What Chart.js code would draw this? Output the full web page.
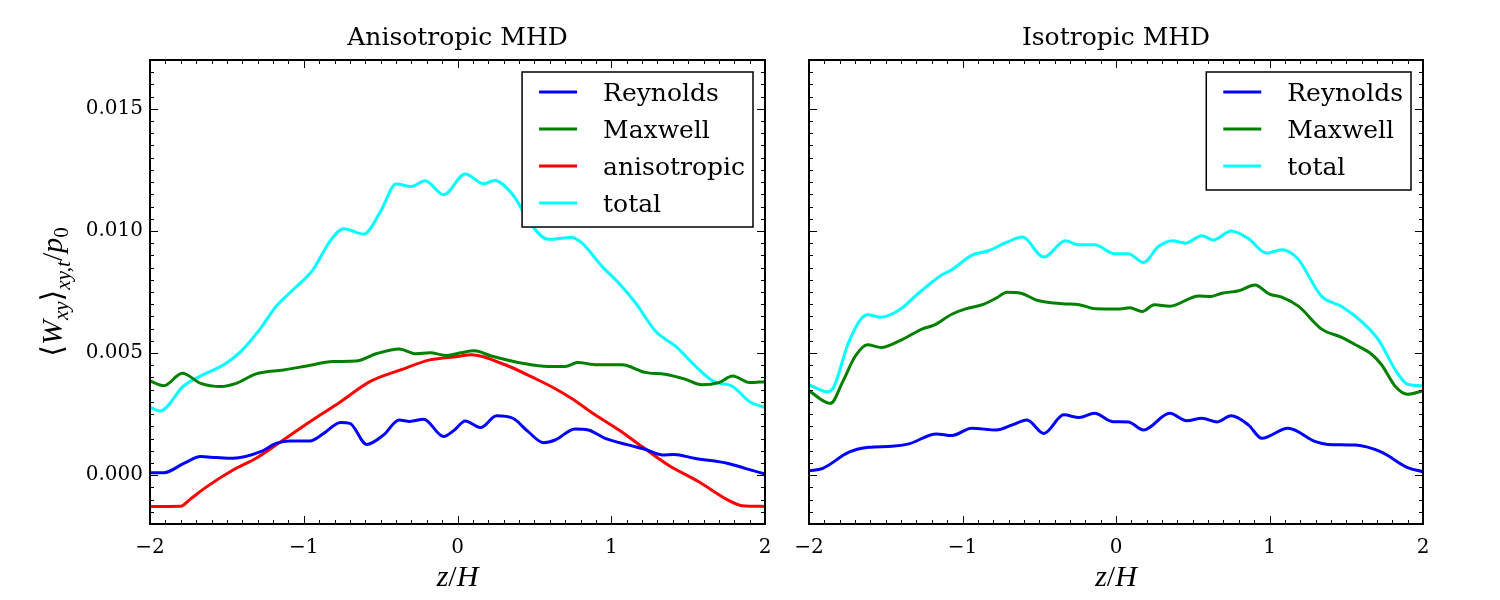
<!DOCTYPE html>
<html>
<head>
<meta charset="utf-8">
<script src="https://cdn.jsdelivr.net/npm/chart.js@4.4.1/dist/chart.umd.min.js"></script>
<style>
  body { margin: 0; background: #fff; width: 1500px; height: 600px; position: relative; overflow: hidden; }
  canvas { position: absolute; top: 0; }
  #left { left: 0; }
  #right { left: 790px; }
</style>
</head>
<body>
<canvas id="left" width="780" height="600"></canvas>
<canvas id="right" width="650" height="600"></canvas>
<script>
// ===== Data (stress values in units of 1e-3) =====
const xTicks = [-2, -1, 0, 1, 2];
const xTickLabels = ["\u22122", "\u22121", "0", "1", "2"];
const yTicks = [0, 5, 10, 15];
const yTickLabels = ["0.000", "0.005", "0.010", "0.015"];

// Anisotropic MHD
const zReyA = [-2, -1.91, -1.78, -1.67, -1.57, -1.46, -1.28, -1.18, -1.09, -0.96, -0.87, -0.76, -0.70, -0.59, -0.48, -0.38, -0.31, -0.22, -0.09, -0.02, 0.05, 0.15, 0.255, 0.36, 0.46, 0.56, 0.635, 0.764, 0.85, 0.96, 1.11, 1.22, 1.33, 1.41, 1.54, 1.76, 1.87, 2];
const reyA  = [0.1, 0.1, 0.48, 0.76, 0.72, 0.69, 0.96, 1.30, 1.40, 1.40, 1.71, 2.16, 2.12, 1.26, 1.65, 2.26, 2.20, 2.29, 1.58, 1.85, 2.22, 1.95, 2.43, 2.33, 1.78, 1.33, 1.44, 1.89, 1.85, 1.51, 1.24, 1.06, 0.83, 0.85, 0.69, 0.48, 0.28, 0.05];

const zMaxA = [-2, -1.91, -1.79, -1.67, -1.54, -1.44, -1.31, -1.13, -0.98, -0.81, -0.66, -0.53, -0.38, -0.27, -0.18, -0.07, 0.02, 0.11, 0.22, 0.44, 0.59, 0.70, 0.78, 0.91, 1.07, 1.22, 1.35, 1.48, 1.59, 1.70, 1.79, 1.90, 2];
const maxA  = [3.86, 3.66, 4.17, 3.76, 3.63, 3.76, 4.15, 4.31, 4.47, 4.65, 4.67, 4.97, 5.17, 4.97, 5.01, 4.90, 5.01, 5.09, 4.88, 4.56, 4.45, 4.45, 4.61, 4.52, 4.52, 4.21, 4.13, 3.93, 3.70, 3.79, 4.06, 3.79, 3.83];

const zAniA = [-2, -1.80, -1.74, -1.63, -1.46, -1.31, -1.15, -0.96, -0.76, -0.57, -0.37, -0.18, 0.0, 0.09, 0.31, 0.50, 0.63, 0.74, 0.895, 1.05, 1.20, 1.37, 1.57, 1.76, 1.85, 2];
const aniA  = [-1.28, -1.27, -0.99, -0.47, 0.21, 0.69, 1.37, 2.19, 3.01, 3.83, 4.31, 4.72, 4.86, 4.93, 4.52, 3.97, 3.56, 3.15, 2.47, 1.85, 1.17, 0.42, -0.27, -1.02, -1.25, -1.28];

const zTotA = [-2, -1.935, -1.78, -1.65, -1.52, -1.41, -1.28, -1.18, -1.07, -0.94, -0.83, -0.74, -0.61, -0.50, -0.40, -0.30, -0.21, -0.09, 0.05, 0.17, 0.24, 0.36, 0.48, 0.59, 0.74, 0.81, 0.94, 1.05, 1.16, 1.29, 1.42, 1.55, 1.66, 1.79, 1.90, 2];
const totA  = [2.77, 2.63, 3.66, 4.13, 4.52, 5.06, 6.02, 6.91, 7.59, 8.41, 9.57, 10.09, 9.87, 10.80, 11.92, 11.82, 12.06, 11.48, 12.33, 11.93, 12.07, 11.48, 10.25, 9.66, 9.73, 9.50, 8.55, 7.86, 7.04, 5.88, 5.27, 4.45, 3.86, 3.63, 3.01, 2.77];

// Isotropic MHD
const zReyI = [-2, -1.91, -1.74, -1.61, -1.46, -1.35, -1.17, -1.07, -0.94, -0.78, -0.675, -0.58, -0.47, -0.34, -0.24, -0.14, -0.02, 0.08, 0.18, 0.35, 0.46, 0.56, 0.66, 0.75, 0.862, 0.95, 1.12, 1.30, 1.38, 1.56, 1.73, 1.90, 2];
const reyI  = [0.17, 0.28, 0.94, 1.14, 1.18, 1.28, 1.69, 1.62, 1.92, 1.85, 2.06, 2.26, 1.71, 2.47, 2.36, 2.53, 2.19, 2.18, 1.85, 2.53, 2.23, 2.33, 2.18, 2.43, 2.06, 1.51, 1.92, 1.37, 1.26, 1.23, 0.94, 0.31, 0.14];

const zMaxI = [-2, -1.86, -1.78, -1.70, -1.62, -1.53, -1.41, -1.26, -1.19, -1.07, -0.98, -0.87, -0.78, -0.71, -0.62, -0.51, -0.35, -0.24, -0.13, 0.01, 0.09, 0.17, 0.25, 0.35, 0.54, 0.62, 0.69, 0.80, 0.905, 1.00, 1.08, 1.19, 1.34, 1.47, 1.56, 1.665, 1.73, 1.82, 1.90, 2];
const maxI  = [3.45, 2.94, 3.83, 4.86, 5.34, 5.23, 5.50, 5.99, 6.13, 6.59, 6.81, 6.98, 7.25, 7.49, 7.45, 7.15, 7.02, 6.98, 6.81, 6.80, 6.85, 6.70, 6.98, 6.92, 7.34, 7.32, 7.45, 7.55, 7.79, 7.41, 7.29, 6.91, 5.98, 5.64, 5.34, 4.95, 4.52, 3.63, 3.31, 3.45];

const zTotI = [-2, -1.88, -1.84, -1.74, -1.62, -1.53, -1.41, -1.28, -1.14, -1.07, -0.94, -0.83, -0.71, -0.61, -0.47, -0.33, -0.24, -0.14, -0.01, 0.08, 0.18, 0.276, 0.37, 0.45, 0.56, 0.634, 0.75, 0.86, 0.98, 1.08, 1.18, 1.34, 1.47, 1.60, 1.71, 1.82, 1.90, 2];
const totI  = [3.70, 3.42, 3.59, 5.47, 6.57, 6.47, 6.77, 7.49, 8.18, 8.41, 9.00, 9.19, 9.54, 9.75, 8.93, 9.60, 9.43, 9.43, 9.07, 9.07, 8.71, 9.36, 9.60, 9.50, 9.80, 9.63, 10.00, 9.70, 9.09, 9.23, 8.89, 7.32, 6.91, 6.29, 5.54, 4.31, 3.72, 3.66];

// ===== Helpers =====
function pts(zs, vs) {
    return zs.map((z, i) => ({ x: z, y: vs[i] }));
}

function line(label, color, zs, vs) {
    return {
        label: label,
        data: pts(zs, vs),
        borderColor: color,
        borderWidth: 3,
        pointRadius: 0,
        fill: false,
        cubicInterpolationMode: "monotone"
    };
}

// draws mixed-style text pieces along a baseline, centred on 0
function drawPieces(ctx, pieces) {
    let total = 0;
    pieces.forEach(p => {
        ctx.font = p[1] + " " + p[2] + "px " + p[4];
        p.w = ctx.measureText(p[0]).width;
        total += p.w;
    });
    let cx = -total / 2;
    pieces.forEach(p => {
        ctx.font = p[1] + " " + p[2] + "px " + p[4];
        ctx.fillText(p[0], cx, p[3]);
        cx += p.w;
    });
}

const mathFont = '"Liberation Serif", serif';

// ===== Frame, ticks, legend, titles =====
const framePlugin = {
    id: "frame",
    afterDatasetsDraw(chart, args, opts) {
        const ctx = chart.ctx;
        const a = chart.chartArea;
        const x = chart.scales.x;
        const y = chart.scales.y;
        ctx.save();

        // legend
        const sets = chart.data.datasets;
        ctx.font = '25px "DejaVu Serif"';
        const textW = Math.max(...sets.map(d => ctx.measureText(d.label).width));
        const w = 17 + 38 + 26 + textW + 8;
        const rowH = 37;
        const h = 20 + rowH * (sets.length - 1) + 24;
        const x0 = a.right - 12 - w;
        const y0 = a.top + 12;
        ctx.fillStyle = "#fff";
        ctx.fillRect(x0, y0, w, h);
        ctx.strokeStyle = "#000";
        ctx.lineWidth = 1.5;
        ctx.strokeRect(x0, y0, w, h);
        sets.forEach((d, i) => {
            const cy = y0 + 20 + i * rowH;
            ctx.strokeStyle = d.borderColor;
            ctx.lineWidth = 3;
            ctx.beginPath();
            ctx.moveTo(x0 + 17, cy);
            ctx.lineTo(x0 + 55, cy);
            ctx.stroke();
            ctx.fillStyle = "#000";
            ctx.textAlign = "left";
            ctx.textBaseline = "alphabetic";
            ctx.fillText(d.label, x0 + 81, cy + 9);
        });

        // inward ticks on all four sides
        ctx.strokeStyle = "#000";
        ctx.lineWidth = 1;
        ctx.beginPath();
        for (let i = -20; i <= 20; i++) {
            const px = Math.round(x.getPixelForValue(i / 10)) + 0.5;
            const len = i % 10 === 0 ? 8 : 4;
            ctx.moveTo(px, a.bottom); ctx.lineTo(px, a.bottom - len);
            ctx.moveTo(px, a.top); ctx.lineTo(px, a.top + len);
        }
        for (let i = -4; i <= 34; i++) {
            const py = Math.round(y.getPixelForValue(i / 2)) + 0.5;
            const len = i % 10 === 0 ? 8 : 4;
            ctx.moveTo(a.left, py); ctx.lineTo(a.left + len, py);
            ctx.moveTo(a.right, py); ctx.lineTo(a.right - len, py);
        }
        ctx.stroke();

        ctx.lineWidth = 2;
        ctx.strokeRect(a.left, a.top, a.right - a.left, a.bottom - a.top);
        ctx.restore();
    },
    afterDraw(chart, args, opts) {
        const ctx = chart.ctx;
        const a = chart.chartArea;
        const cx = (a.left + a.right) / 2;
        ctx.save();
        ctx.fillStyle = "#000";
        ctx.textBaseline = "alphabetic";

        // panel title
        ctx.textAlign = "center";
        ctx.font = '25px "DejaVu Serif"';
        ctx.fillText(opts.title, cx, 45);

        // x axis title
        ctx.textAlign = "left";
        ctx.save();
        ctx.translate(cx, 586);
        drawPieces(ctx, [
            ["z", "italic", 30, 0, mathFont],
            ["/", "normal", 30, 0, mathFont],
            ["H", "italic", 30, 0, mathFont]
        ]);
        ctx.restore();

        // y axis title
        if (opts.yLabel) {
            ctx.save();
            ctx.translate(62, (a.top + a.bottom) / 2);
            ctx.rotate(-Math.PI / 2);
            drawPieces(ctx, [
                ["\u27E8", "normal", 30, 0, '"DejaVu Serif"'],
                ["W", "italic", 30, 0, mathFont],
                ["xy", "italic", 21, 6, mathFont],
                ["\u27E9", "normal", 30, 0, '"DejaVu Serif"'],
                ["xy,t", "italic", 21, 8, mathFont],
                ["/", "normal", 30, 0, mathFont],
                ["p", "italic", 30, 0, mathFont],
                ["0", "normal", 21, 6, mathFont]
            ]);
            ctx.restore();
        }
        ctx.restore();
    }
};

// ===== Charts =====
function makeChart(id, title, datasets, showY, padRight) {
    const tickFont = { family: "DejaVu Serif", size: 20 };
    return new Chart(document.getElementById(id), {
        type: "line",
        data: { datasets: datasets },
        options: {
            responsive: false,
            animation: false,
            layout: { padding: { top: 60, right: padRight, left: 0, bottom: 0 } },
            plugins: {
                legend: { display: false },
                tooltip: { enabled: false },
                frame: { title: title, yLabel: showY }
            },
            scales: {
                x: {
                    type: "linear",
                    min: -2,
                    max: 2,
                    grid: { display: false },
                    border: { display: false },
                    afterBuildTicks: s => { s.ticks = xTicks.map(v => ({ value: v })); },
                    afterFit: s => { s.height = 76; },
                    ticks: {
                        color: "#000",
                        font: tickFont,
                        padding: 4,
                        maxRotation: 0,
                        autoSkip: false,
                        callback: (v, i) => xTickLabels[i]
                    }
                },
                y: {
                    type: "linear",
                    min: -2,
                    max: 17,
                    grid: { display: false, tickLength: 0 },
                    border: { display: false },
                    afterBuildTicks: s => { s.ticks = yTicks.map(v => ({ value: v })); },
                    afterFit: s => { s.width = showY ? 150 : 19; },
                    ticks: {
                        display: showY,
                        color: "#000",
                        font: tickFont,
                        padding: 7,
                        callback: (v, i) => yTickLabels[i]
                    }
                }
            }
        },
        plugins: [framePlugin]
    });
}

makeChart("left", "Anisotropic MHD", [
    line("Reynolds", "#0000ff", zReyA, reyA),
    line("Maxwell", "#008000", zMaxA, maxA),
    line("anisotropic", "#ff0000", zAniA, aniA),
    line("total", "#00ffff", zTotA, totA)
], true, 15);

makeChart("right", "Isotropic MHD", [
    line("Reynolds", "#0000ff", zReyI, reyI),
    line("Maxwell", "#008000", zMaxI, maxI),
    line("total", "#00ffff", zTotI, totI)
], false, 17);
</script>
</body>
</html>
